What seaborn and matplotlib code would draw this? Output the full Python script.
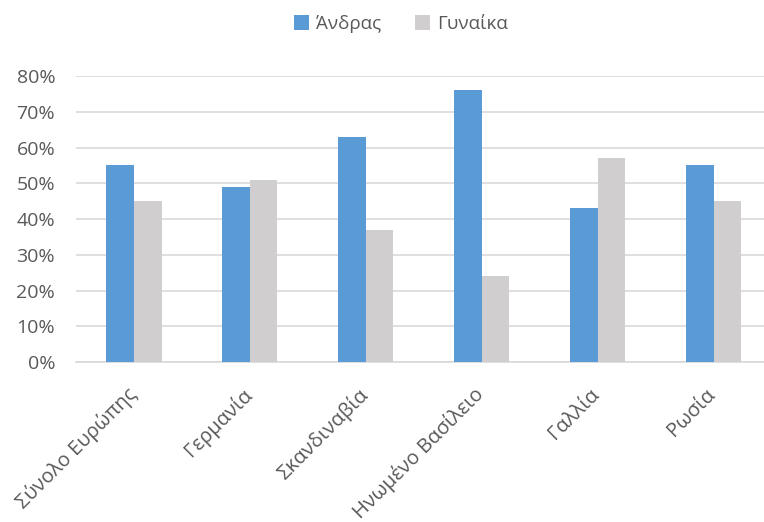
import matplotlib
matplotlib.use("Agg")
import matplotlib.pyplot as plt
import matplotlib.transforms as mtransforms
import seaborn as sns
import pandas as pd
from matplotlib.ticker import PercentFormatter
from matplotlib.patches import Patch

regions = ["Σύνολο Ευρώπης", "Γερμανία", "Σκανδιναβία", "Ηνωμένο Βασίλειο", "Γαλλία", "Ρωσία"]
men = [0.55, 0.49, 0.63, 0.76, 0.43, 0.55]
women = [0.45, 0.51, 0.37, 0.24, 0.57, 0.45]
series_names = ["Άνδρας", "Γυναίκα"]
colors = ["#5B9BD5", "#D0CECE"]

df = pd.DataFrame({
    "region": regions * 2,
    "share": men + women,
    "gender": [series_names[0]] * len(regions) + [series_names[1]] * len(regions),
})

sns.set_theme(style="white")
plt.rcParams["font.family"] = ["Open Sans", "DejaVu Sans"]
text_color = "#595959"

fig = plt.figure(figsize=(7.64, 5.22), dpi=100)
ax = fig.add_axes([0.0995, 0.3065, 0.9105, 0.5479])

sns.barplot(data=df, x="region", y="share", hue="gender", palette=colors,
            width=0.475, saturation=1, linewidth=0, edgecolor="none",
            ax=ax, legend=False, zorder=3)

ax.set_ylim(0, 0.8)
ax.set_yticks([i / 10 for i in range(9)])
ax.yaxis.set_major_formatter(PercentFormatter(1.0, decimals=0))
ax.grid(axis="y", color="#D9D9D9", linewidth=1.2, zorder=0)
ax.set_axisbelow(True)
for s in ["top", "right", "left"]:
    ax.spines[s].set_visible(False)
ax.spines["bottom"].set_color("#D9D9D9")
ax.spines["bottom"].set_linewidth(1.2)

ax.set_xlabel("")
ax.set_ylabel("")
ax.tick_params(axis="both", length=0, colors=text_color)
ax.tick_params(axis="y", pad=15, labelsize=14)
ax.tick_params(axis="x", pad=16, labelsize=14.5)
shift = mtransforms.ScaledTranslation(-8 / 100, 0, fig.dpi_scale_trans)
for lbl in ax.get_xticklabels():
    lbl.set_rotation(45)
    lbl.set_ha("right")
    lbl.set_rotation_mode("anchor")
    lbl.set_transform(lbl.get_transform() + shift)

handles = [Patch(facecolor=c, edgecolor="none") for c in colors]
fig.legend(handles, series_names, loc="center", bbox_to_anchor=(401 / 764, 1 - 24 / 522),
           ncol=2, frameon=False, fontsize=13.5, labelcolor=text_color,
           handlelength=0.8, handleheight=0.8, handletextpad=0.4, columnspacing=1.8)

fig.savefig("out.png", dpi=100)
